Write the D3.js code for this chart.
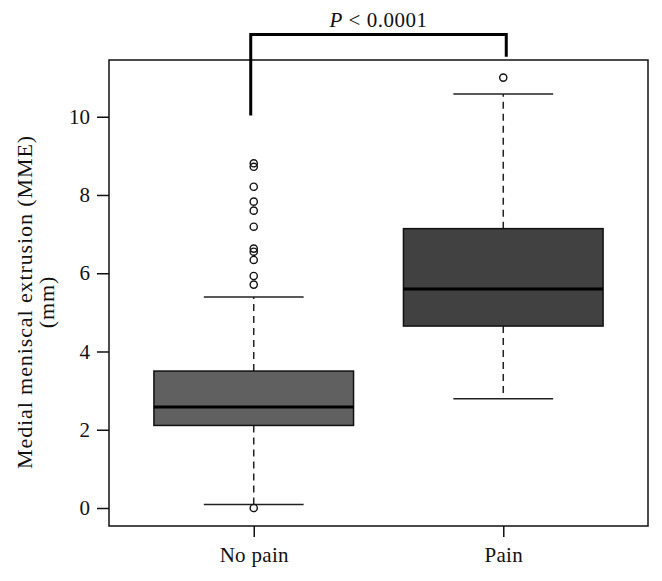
<!DOCTYPE html>
<html>
<head>
<meta charset="utf-8">
<script src="https://cdn.jsdelivr.net/npm/d3@7"></script>
<style>
  body { margin: 0; background: #fff; }
  text { font-family: "Liberation Serif", "DejaVu Serif", serif; fill: #111; }
</style>
</head>
<body>
<script>
// Data
var groups = ["No pain", "Pain"];
var whiskerLow = [0.09, 2.79];
var q1 = [2.11, 4.65];
var medians = [2.58, 5.60];
var q3 = [3.50, 7.14];
var whiskerHigh = [5.39, 10.58];
var outliersNoPain = [0.0, 5.71, 5.93, 6.34, 6.55, 6.63, 7.19, 7.60, 7.83, 8.21, 8.72, 8.81];
var outliersPain = [11.0];
var yTicks = [0, 2, 4, 6, 8, 10];
var pLabel = "P";
var pText = " < 0.0001";

var width = 662, height = 581;
var margin = {top: 60, right: 14, bottom: 55, left: 109};

var svg = d3.select("body").append("svg")
    .attr("width", width).attr("height", height);

var x = d3.scaleLinear().domain([0.42, 2.58]).range([margin.left, width - margin.right]);
var y = d3.scaleLinear().domain([-0.46, 11.45]).range([height - margin.bottom, margin.top]);

var boxW = x(1.8) - x(1);
var capW = x(1.4) - x(1);
var fills = ["#606060", "#414141"];
var outliers = [outliersNoPain, outliersPain];

// Boxes
groups.forEach(function(g, i) {
    var cx = x(i + 1);
    var grp = svg.append("g");

    // dashed whiskers
    grp.append("line")
        .attr("x1", cx).attr("x2", cx)
        .attr("y1", y(q3[i])).attr("y2", y(whiskerHigh[i]))
        .attr("stroke", "#222").attr("stroke-width", 1.5)
        .attr("stroke-dasharray", "7,5");
    grp.append("line")
        .attr("x1", cx).attr("x2", cx)
        .attr("y1", y(q1[i])).attr("y2", y(whiskerLow[i]))
        .attr("stroke", "#222").attr("stroke-width", 1.5)
        .attr("stroke-dasharray", "7,5");

    // caps
    [whiskerLow[i], whiskerHigh[i]].forEach(function(v) {
        grp.append("line")
            .attr("x1", cx - capW / 2).attr("x2", cx + capW / 2)
            .attr("y1", y(v)).attr("y2", y(v))
            .attr("stroke", "#222").attr("stroke-width", 1.5);
    });

    // box
    grp.append("rect")
        .attr("x", cx - boxW / 2).attr("width", boxW)
        .attr("y", y(q3[i])).attr("height", y(q1[i]) - y(q3[i]))
        .attr("fill", fills[i]).attr("stroke", "#111").attr("stroke-width", 1.5);

    // median
    grp.append("line")
        .attr("x1", cx - boxW / 2).attr("x2", cx + boxW / 2)
        .attr("y1", y(medians[i])).attr("y2", y(medians[i]))
        .attr("stroke", "#000").attr("stroke-width", 3);

    // outliers
    grp.selectAll("circle").data(outliers[i]).enter().append("circle")
        .attr("cx", cx).attr("cy", function(d) { return y(d); })
        .attr("r", 3.6)
        .attr("fill", "none").attr("stroke", "#111").attr("stroke-width", 1.4);
});

// Frame
svg.append("rect")
    .attr("x", margin.left).attr("y", margin.top)
    .attr("width", width - margin.right - margin.left)
    .attr("height", height - margin.bottom - margin.top)
    .attr("fill", "none").attr("stroke", "#111").attr("stroke-width", 1.5);

// Y axis
var yAxis = svg.append("g")
    .attr("transform", "translate(" + margin.left + ",0)")
    .call(d3.axisLeft(y).tickValues(yTicks).tickSize(12).tickPadding(7).tickFormat(d3.format("d")));
yAxis.select(".domain").remove();
yAxis.selectAll("line").attr("stroke", "#111").attr("stroke-width", 1.5);
yAxis.selectAll("text").attr("font-size", 21).attr("font-family", "Liberation Serif").attr("fill", "#111");

// X axis
var xAxis = svg.append("g")
    .attr("transform", "translate(0," + (height - margin.bottom) + ")")
    .call(d3.axisBottom(x).tickValues([1, 2]).tickSize(11)
        .tickFormat(function(d) { return groups[d - 1]; }));
xAxis.select(".domain").remove();
xAxis.selectAll("line").attr("stroke", "#111").attr("stroke-width", 1.5);
xAxis.selectAll("text")
    .attr("y", 36).attr("dy", null)
    .attr("font-size", 21).attr("letter-spacing", 0.3)
    .attr("font-family", "Liberation Serif").attr("fill", "#111");

// Y label
var yl = svg.append("text")
    .attr("transform", "translate(31.5,302) rotate(-90)")
    .attr("text-anchor", "middle")
    .attr("font-size", 22).attr("letter-spacing", 0.9);
yl.append("tspan").attr("x", 0).attr("dy", 0).text("Medial meniscal extrusion (MME)");
yl.append("tspan").attr("x", 0).attr("dy", 22.5).text("(mm)");

// Significance bracket
var bx1 = x(1) - 3, bx2 = x(2) + 3, by = 34.5;
svg.append("path")
    .attr("d", "M" + bx1 + "," + y(10.03) + "V" + by + "H" + bx2 + "V" + y(11.53))
    .attr("fill", "none").attr("stroke", "#000").attr("stroke-width", 3);

var pt = svg.append("text")
    .attr("x", (bx1 + bx2) / 2).attr("y", 27)
    .attr("text-anchor", "middle").attr("font-size", 21).attr("letter-spacing", 0.5);
pt.append("tspan").attr("font-style", "italic").text(pLabel);
pt.append("tspan").text(pText);
</script>
</body>
</html>
